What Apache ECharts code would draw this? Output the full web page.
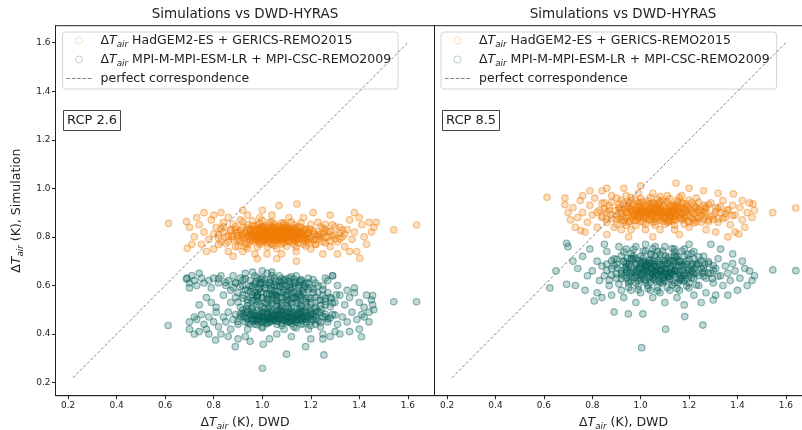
<!DOCTYPE html>
<html>
<head>
<meta charset="utf-8">
<script src="https://cdn.jsdelivr.net/npm/echarts@6/dist/echarts.min.js"></script>
<style>
  html, body { margin: 0; padding: 0; background: #fff; }
  #chart { width: 802px; height: 430px; }
</style>
</head>
<body>
<div id="chart"></div>
<script>
// tick labels (both axes)
const xTicks = [0.2, 0.4, 0.6, 0.8, 1.0, 1.2, 1.4, 1.6]
const yTicks = [0.2, 0.4, 0.6, 0.8, 1.0, 1.2, 1.4, 1.6]
const panelTitles = ['Simulations vs DWD-HYRAS', 'Simulations vs DWD-HYRAS']
const scenarios = ['RCP 2.6', 'RCP 8.5']
const seriesNames = ['HadGEM2-ES + GERICS-REMO2015', 'MPI-M-MPI-ESM-LR + MPI-CSC-REMO2009', 'perfect correspondence']
// perfect correspondence line end points
const diagLine = [[0.22, 0.22], [1.6, 1.6]]

// [DWD, simulation] pairs
const hadRcp26 = [
  [0.88,0.80],[0.90,0.82],[0.91,0.78],[0.92,0.84],[0.93,0.80],[0.94,0.77],[0.95,0.83],[0.96,0.81],[0.97,0.79],[0.98,0.85],[0.99,0.82],[1.00,0.78],[1.01,0.80],[1.02,0.83],[1.03,0.81],[1.04,0.77],[1.05,0.84],[1.06,0.80],[1.07,0.82],[1.08,0.79],[1.09,0.85],[1.10,0.81],[1.11,0.78],[1.12,0.83],[1.13,0.80],[1.14,0.82],[1.15,0.79],[1.16,0.84],[1.17,0.81],[1.18,0.78],[1.19,0.82],[1.20,0.80],[1.22,0.79],[1.23,0.81],
  [0.89,0.83],[0.90,0.79],[0.92,0.81],[0.93,0.76],[0.94,0.85],[0.95,0.80],[0.96,0.78],[0.97,0.83],[0.98,0.80],[0.99,0.77],[1.00,0.84],[1.01,0.82],[1.02,0.79],[1.03,0.86],[1.04,0.81],[1.05,0.78],[1.06,0.83],[1.07,0.80],[1.08,0.77],[1.09,0.82],[1.10,0.84],[1.11,0.80],[1.12,0.78],[1.13,0.85],[1.14,0.79],[1.15,0.82],[1.16,0.80],[1.17,0.77],[1.18,0.83],[1.19,0.79],[1.21,0.82],[1.22,0.77],[1.24,0.80],
  [0.955,0.815],[0.965,0.795],[0.975,0.825],[0.985,0.805],[0.995,0.835],[1.005,0.795],[1.015,0.815],[1.025,0.805],[1.035,0.825],[1.045,0.795],[1.055,0.815],[1.065,0.835],[1.075,0.805],[1.085,0.815],[1.095,0.795],[1.105,0.825],[1.115,0.805],[1.125,0.815],[1.135,0.835],[1.145,0.805],
  [0.96,0.805],[0.98,0.785],[1.00,0.81],[1.02,0.775],[1.04,0.825],[1.06,0.79],[1.08,0.835],[1.10,0.795],[1.12,0.805],[1.01,0.845],[1.05,0.765],[1.09,0.775],[0.97,0.845],[1.13,0.77],[1.07,0.845],
  [0.93,0.772],[0.99,0.776],[1.04,0.773],[1.08,0.778],[1.15,0.774],[1.19,0.777],
  [0.91,0.786],[0.95,0.783],[1.01,0.788],[1.03,0.782],[1.07,0.786],[1.11,0.784],[1.14,0.789],[1.21,0.785],
  [0.92,0.796],[0.97,0.793],[1.00,0.798],[1.04,0.792],[1.06,0.797],[1.09,0.794],[1.13,0.799],[1.17,0.795],[1.20,0.792],
  [0.90,0.806],[0.94,0.803],[0.98,0.808],[1.02,0.802],[1.05,0.807],[1.08,0.804],[1.11,0.809],[1.16,0.803],[1.18,0.807],[1.23,0.804],
  [0.93,0.816],[0.96,0.813],[1.00,0.818],[1.03,0.812],[1.06,0.817],[1.10,0.814],[1.13,0.819],[1.15,0.812],[1.19,0.816],
  [0.91,0.826],[0.95,0.823],[0.99,0.828],[1.02,0.822],[1.05,0.827],[1.07,0.824],[1.12,0.829],[1.16,0.823],[1.21,0.826],
  [0.94,0.836],[0.98,0.833],[1.01,0.838],[1.04,0.832],[1.09,0.837],[1.11,0.834],[1.14,0.839],[1.18,0.833],
  [0.96,0.846],[1.00,0.843],[1.03,0.848],[1.06,0.842],[1.10,0.847],[1.15,0.844],[0.99,0.856],[1.05,0.853],[1.09,0.858],
  [0.975,0.801],[0.985,0.821],[0.995,0.811],[1.005,0.831],[1.015,0.801],[1.025,0.821],[1.035,0.791],[1.045,0.811],[1.055,0.801],[1.065,0.821],[1.075,0.791],[1.085,0.831],[1.095,0.811],[1.105,0.801],[1.115,0.821],[1.125,0.791],[1.135,0.811],[1.145,0.826],[1.01,0.786],[1.04,0.841],[1.07,0.806],[1.10,0.826],[1.03,0.816],[1.06,0.786],[1.12,0.816],
  [0.942,0.792],[0.952,0.828],[0.962,0.788],[0.972,0.818],[0.982,0.796],[0.992,0.838],[1.002,0.782],[1.012,0.826],[1.022,0.812],[1.032,0.798],[1.042,0.834],[1.052,0.788],[1.062,0.812],[1.072,0.828],[1.082,0.798],[1.092,0.822],[1.102,0.786],[1.112,0.832],[1.122,0.798],[1.132,0.822],[1.142,0.792],[1.152,0.818],[1.162,0.812],[1.172,0.828],[1.182,0.792],
  [0.948,0.808],[0.968,0.832],[0.988,0.788],[1.008,0.816],[1.028,0.834],[1.048,0.802],[1.068,0.792],[1.088,0.808],[1.108,0.812],[1.128,0.832],[1.148,0.808],[1.168,0.788],[1.018,0.794],[1.058,0.826],[1.098,0.836],[1.138,0.784],
  [1.24,0.812],[1.26,0.798],[1.27,0.823],[1.29,0.806],[1.30,0.791],[1.32,0.815],[1.25,0.835],[1.28,0.784],[1.33,0.828],[1.26,0.775],[0.82,0.795],[0.84,0.818],[0.86,0.803],[0.87,0.826],[0.88,0.789],[0.85,0.772],[0.89,0.842],[0.83,0.834],
  [0.80,0.812],[0.82,0.768],[0.84,0.842],[0.86,0.781],[0.88,0.852],[0.90,0.762],[0.92,0.862],[0.94,0.752],[0.96,0.866],[0.98,0.758],[1.00,0.868],[1.02,0.758],[1.04,0.862],[1.06,0.752],[1.08,0.858],[1.10,0.762],[1.12,0.862],[1.14,0.758],[1.16,0.858],[1.18,0.762],[1.20,0.852],[1.22,0.768],[1.24,0.842],[1.26,0.852],[1.28,0.822],[1.30,0.842],[1.32,0.792],[1.34,0.812],
  [1.215,0.812],[1.235,0.792],[1.255,0.818],[1.195,0.832],[1.175,0.798],[0.915,0.808],[0.895,0.818],[0.875,0.802],[0.935,0.828],
  [0.72,0.80],[0.74,0.85],[0.75,0.77],[0.76,0.82],[0.78,0.79],[0.79,0.87],[0.80,0.75],[0.81,0.84],[0.82,0.81],[0.83,0.78],[0.84,0.86],[0.85,0.80],[0.86,0.74],[0.87,0.83],[0.86,0.88],[0.89,0.76],[0.91,0.87],[0.92,0.74],[0.94,0.89],[0.97,0.73],[0.99,0.88],[1.02,0.73],[1.04,0.89],[1.08,0.73],[1.11,0.88],[1.14,0.74],[1.17,0.88],[1.20,0.75],[1.23,0.86],[1.25,0.78],[1.26,0.83],[1.27,0.80],[1.28,0.76],[1.29,0.85],[1.30,0.81],[1.31,0.78],[1.32,0.84],[1.33,0.80],[1.34,0.76],[1.35,0.83],[1.36,0.87],[1.37,0.79],[1.38,0.82],[1.39,0.74],[1.41,0.85],[1.42,0.80],[1.25,0.73],[1.28,0.89],[0.77,0.74],[0.83,0.90],
  [0.614,0.856],[0.688,0.863],[0.691,0.753],[0.70,0.84],[0.71,0.77],[0.73,0.88],[0.76,0.90],[0.80,0.89],[1.069,0.929],[1.143,0.936],[1.141,0.70],[1.402,0.712],[1.542,0.829],[1.636,0.849],[1.44,0.86],[1.45,0.82],[1.46,0.84],[1.43,0.77],[1.40,0.88],[1.36,0.74],[0.92,0.91],[1.00,0.91],[1.21,0.90],[0.98,0.71],[1.06,0.71],[0.88,0.72],[1.31,0.73],[1.47,0.86],[1.38,0.90]
]
const mpiRcp26 = [
  [0.69,0.63],[0.70,0.61],[0.72,0.62],[0.73,0.60],[0.75,0.63],[0.76,0.61],[0.78,0.62],[0.79,0.59],[0.80,0.63],[0.82,0.61],[0.83,0.64],[0.85,0.60],[0.86,0.62],[0.87,0.58],[0.88,0.64],[0.89,0.61],[0.90,0.57],[0.91,0.63],[0.92,0.60],[0.93,0.65],[0.94,0.58],[0.95,0.62],[0.96,0.60],[0.97,0.64],[0.98,0.57],[0.99,0.61],[1.00,0.63],[1.01,0.59],[1.02,0.65],[1.03,0.61],[1.04,0.58],[1.05,0.63],[1.06,0.60],[1.07,0.64],[1.08,0.57],[1.09,0.62],[1.10,0.60],[1.11,0.63],[1.12,0.58],[1.13,0.61],[1.14,0.64],[1.15,0.59],[1.16,0.62],[1.17,0.57],[1.18,0.61],[1.19,0.63],[1.20,0.59],[1.22,0.61],[1.23,0.57],[1.25,0.60],[1.27,0.62],[1.29,0.64],[0.96,0.655],[1.04,0.655],[1.00,0.66],
  [0.84,0.56],[0.87,0.53],[0.89,0.55],[0.91,0.51],[0.92,0.56],[0.94,0.53],[0.95,0.55],[0.96,0.51],[0.97,0.54],[0.98,0.56],[0.99,0.52],[1.00,0.55],[1.01,0.53],[1.02,0.56],[1.03,0.51],[1.04,0.54],[1.05,0.56],[1.06,0.52],[1.07,0.55],[1.08,0.53],[1.09,0.50],[1.10,0.56],[1.11,0.54],[1.12,0.51],[1.13,0.55],[1.14,0.53],[1.15,0.56],[1.16,0.52],[1.17,0.54],[1.18,0.50],[1.19,0.55],[1.20,0.53],[1.21,0.57],[1.22,0.51],[1.24,0.54],[1.25,0.56],[1.26,0.52],[1.28,0.55],[1.30,0.53],[1.32,0.56],[1.34,0.52],[1.36,0.55],[1.38,0.57],[1.40,0.53],[1.43,0.56],[1.45,0.54],[1.455,0.558],[1.42,0.51],
  [0.73,0.46],[0.75,0.48],[0.76,0.44],[0.78,0.47],[0.80,0.45],[0.81,0.49],[0.82,0.43],[0.84,0.47],[0.85,0.45],[0.86,0.49],[0.87,0.42],[0.88,0.46],[0.89,0.48],[0.90,0.44],[0.91,0.47],[0.92,0.50],[0.93,0.45],[0.94,0.42],[0.95,0.48],[0.96,0.46],[0.97,0.44],[0.98,0.49],[0.99,0.47],[1.00,0.43],[1.01,0.46],[1.02,0.48],[1.03,0.45],[1.04,0.50],[1.05,0.47],[1.06,0.44],[1.07,0.46],[1.08,0.49],[1.09,0.42],[1.10,0.47],[1.11,0.45],[1.12,0.48],[1.13,0.43],[1.14,0.46],[1.15,0.49],[1.16,0.44],[1.17,0.47],[1.18,0.45],[1.19,0.42],[1.20,0.48],[1.21,0.46],[1.22,0.44],[1.23,0.49],[1.24,0.43],[1.26,0.47],[1.27,0.45],[1.29,0.48],[1.31,0.44],[1.33,0.47],[1.35,0.45],[1.37,0.49],[1.39,0.46],[1.41,0.48],[1.30,0.41],[1.25,0.40],
  [0.955,0.465],[0.965,0.485],[0.975,0.455],[0.985,0.475],[0.995,0.495],[1.005,0.465],[1.015,0.445],[1.025,0.475],[1.035,0.465],[1.045,0.485],[1.055,0.455],[1.065,0.475],[1.075,0.495],[1.085,0.465],[1.095,0.455],[1.105,0.485],[1.115,0.465],[1.125,0.475],[1.135,0.455],[1.145,0.485],[1.155,0.465],[1.165,0.475],[1.175,0.495],[1.01,0.505],[1.06,0.515],[1.11,0.505],[1.00,0.425],[1.08,0.435],[1.14,0.425],[1.20,0.435],
  [0.90,0.452],[0.93,0.468],[0.95,0.441],[0.97,0.475],[0.99,0.458],[1.01,0.487],[1.03,0.449],[1.05,0.462],[1.07,0.481],[1.09,0.455],[1.11,0.472],[1.13,0.491],[1.15,0.458],[1.17,0.442],[1.19,0.468],[1.21,0.482],[1.23,0.455],[1.25,0.471],
  [0.91,0.482],[0.94,0.494],[0.96,0.452],[0.98,0.438],[1.00,0.472],[1.02,0.461],[1.04,0.477],[1.06,0.493],[1.08,0.446],[1.10,0.461],[1.12,0.455],[1.14,0.476],[1.16,0.489],[1.18,0.462],[1.20,0.451],[1.22,0.474],[1.24,0.488],[1.27,0.462],
  [0.985,0.462],[1.005,0.452],[1.025,0.468],[1.045,0.456],[1.065,0.465],[1.085,0.478],[1.105,0.449],[1.125,0.462],[1.145,0.469],[1.165,0.456],[1.035,0.492],[1.075,0.502],[1.115,0.495],[1.155,0.505],[0.955,0.505],[1.195,0.495],
  [0.922,0.472],[0.942,0.448],[0.962,0.492],[0.982,0.466],[1.002,0.448],[1.022,0.486],[1.042,0.472],[1.062,0.452],[1.082,0.492],[1.102,0.472],[1.122,0.486],[1.142,0.448],[1.162,0.492],[1.182,0.472],[1.202,0.486],[1.222,0.462],
  [0.932,0.488],[0.952,0.476],[0.972,0.462],[0.992,0.482],[1.012,0.472],[1.032,0.458],[1.052,0.482],[1.072,0.466],[1.092,0.478],[1.112,0.452],[1.132,0.472],[1.152,0.482],[1.172,0.462],[1.192,0.476],
  [0.958,0.592],[0.978,0.556],[0.998,0.612],[1.018,0.566],[1.038,0.598],[1.058,0.562],[1.078,0.612],[1.098,0.558],[1.118,0.588],[1.138,0.612],[1.158,0.552],[1.178,0.596],[1.028,0.538],[1.068,0.528],[1.108,0.538],[1.148,0.528],
  [0.93,0.582],[0.95,0.598],[0.97,0.571],[0.99,0.604],[1.01,0.588],[1.03,0.612],[1.05,0.574],[1.07,0.596],[1.09,0.583],[1.11,0.617],[1.13,0.572],[1.15,0.601],[1.17,0.588],[1.19,0.611],[1.21,0.585],
  [0.94,0.541],[0.96,0.562],[0.98,0.535],[1.00,0.548],[1.02,0.527],[1.04,0.565],[1.06,0.538],[1.08,0.551],[1.10,0.529],[1.12,0.566],[1.14,0.542],[1.16,0.559],[1.18,0.531],[1.20,0.548],[1.23,0.538],[1.26,0.546],[1.29,0.528],
  [0.92,0.622],[0.98,0.632],[1.04,0.641],[1.08,0.628],[1.12,0.636],[1.16,0.624],[0.88,0.592],[0.85,0.612],[0.82,0.628],
  [0.975,0.615],[0.995,0.625],[1.015,0.605],[1.035,0.625],[1.055,0.615],[1.075,0.595],[1.095,0.625],[1.115,0.605],[1.135,0.595],[1.155,0.615],[1.035,0.585],[1.065,0.575],[0.985,0.585],[1.105,0.575],
  [0.89,0.612],[0.91,0.596],[0.93,0.628],[0.95,0.574],[0.97,0.606],[0.99,0.588],[1.01,0.622],[1.03,0.566],[1.05,0.602],[1.07,0.618],[1.09,0.571],[1.11,0.594],[1.13,0.626],[1.15,0.568],[1.17,0.604],[1.19,0.582],[1.21,0.624],[1.23,0.598],[1.25,0.582],[1.27,0.571],
  [0.90,0.532],[0.92,0.548],[0.94,0.516],[0.96,0.538],[0.98,0.552],[1.00,0.512],[1.02,0.544],[1.04,0.528],[1.06,0.556],[1.08,0.518],[1.10,0.542],[1.12,0.526],[1.14,0.552],[1.16,0.514],[1.18,0.546],[1.20,0.522],[1.22,0.552],[1.24,0.518],[1.26,0.534],[1.28,0.512],
  [0.92,0.482],[0.94,0.462],[0.96,0.478],[0.98,0.452],[1.00,0.488],[1.02,0.442],[1.04,0.462],[1.06,0.478],[1.08,0.462],[1.10,0.488],[1.12,0.442],[1.14,0.458],[1.16,0.472],[1.18,0.488],[1.20,0.462],[1.22,0.492],[1.24,0.448],[1.26,0.482],[1.28,0.466],[1.30,0.478],
  [0.995,0.575],[1.045,0.548],[1.085,0.602],[1.125,0.548],[1.165,0.578],[1.025,0.505],[1.065,0.498],[1.105,0.512],[1.145,0.502],[1.185,0.512],[0.935,0.502],[0.975,0.522],[1.215,0.505],[1.245,0.502],[1.285,0.545],[1.305,0.562],
  [0.612,0.435],[0.688,0.627],[0.70,0.45],[0.70,0.42],[0.72,0.40],[0.74,0.41],[0.77,0.42],[0.78,0.40],[0.808,0.375],[0.83,0.40],[0.86,0.39],[0.889,0.348],[0.90,0.38],[0.93,0.39],[0.95,0.37],[1.001,0.259],[1.004,0.358],[1.03,0.38],[1.06,0.40],[1.10,0.317],[1.12,0.39],[1.179,0.348],[1.20,0.38],[1.254,0.314],[1.25,0.38],[1.28,0.39],[1.32,0.40],[1.36,0.41],[1.409,0.389],[1.40,0.42],[1.44,0.45],[1.46,0.50],[1.455,0.52],[1.542,0.533],[1.636,0.533],[1.29,0.64],[1.26,0.63],[1.35,0.58],[1.38,0.59],[1.31,0.60],[0.71,0.64],[0.74,0.65],[0.70,0.59],[0.77,0.55],[0.79,0.53],[0.74,0.52],[0.72,0.47],[0.81,0.51],[1.42,0.47],[1.44,0.49]
]
const hadRcp85 = [
  [0.90,0.89],[0.91,0.92],[0.92,0.87],[0.93,0.94],[0.94,0.90],[0.95,0.86],[0.96,0.92],[0.97,0.89],[0.98,0.95],[0.99,0.88],[1.00,0.91],[1.01,0.86],[1.02,0.93],[1.03,0.90],[1.04,0.87],[1.05,0.94],[1.06,0.91],[1.07,0.88],[1.08,0.92],[1.09,0.95],[1.10,0.89],[1.11,0.86],[1.12,0.93],[1.13,0.90],[1.14,0.87],[1.15,0.92],[1.16,0.89],[1.17,0.94],[1.18,0.88],[1.19,0.91],[1.20,0.86],[1.21,0.90],[1.22,0.93],[1.23,0.88],[1.24,0.91],
  [0.91,0.88],[0.92,0.91],[0.93,0.86],[0.94,0.93],[0.95,0.89],[0.96,0.95],[0.97,0.87],[0.98,0.91],[0.99,0.94],[1.00,0.88],[1.01,0.92],[1.02,0.89],[1.03,0.95],[1.04,0.91],[1.05,0.86],[1.06,0.93],[1.07,0.90],[1.08,0.87],[1.09,0.91],[1.10,0.94],[1.11,0.90],[1.12,0.87],[1.13,0.93],[1.14,0.89],[1.15,0.95],[1.16,0.91],[1.17,0.87],[1.18,0.92],[1.19,0.89],[1.21,0.94],[1.22,0.87],[1.23,0.92],[1.25,0.89],
  [0.965,0.905],[0.975,0.885],[0.985,0.925],[0.995,0.905],[1.005,0.895],[1.015,0.915],[1.025,0.875],[1.035,0.905],[1.045,0.925],[1.055,0.895],[1.065,0.885],[1.075,0.915],[1.085,0.905],[1.095,0.875],[1.105,0.915],[1.115,0.895],[1.125,0.905],[1.135,0.925],[1.145,0.885],[1.155,0.905],
  [0.97,0.935],[1.00,0.865],[1.02,0.905],[1.04,0.935],[1.06,0.875],[1.08,0.945],[1.10,0.905],[1.12,0.885],[1.14,0.915],[1.01,0.945],[1.05,0.905],[1.09,0.865],[1.13,0.865],[0.99,0.875],[1.07,0.955],
  [0.90,0.872],[0.92,0.898],[0.94,0.881],[0.96,0.914],[0.98,0.868],[1.00,0.902],[1.02,0.884],[1.04,0.918],[1.06,0.862],[1.08,0.896],[1.10,0.878],[1.12,0.912],[1.14,0.872],[1.16,0.901],[1.18,0.884],[1.20,0.915],[1.22,0.896],[1.24,0.878],
  [0.91,0.934],[0.93,0.912],[0.95,0.941],[0.97,0.896],[0.99,0.922],[1.01,0.882],[1.03,0.938],[1.05,0.892],[1.07,0.924],[1.09,0.881],[1.11,0.945],[1.13,0.902],[1.15,0.928],[1.17,0.876],[1.19,0.934],[1.21,0.908],[1.23,0.862],[1.26,0.904],
  [0.985,0.892],[1.005,0.912],[1.025,0.898],[1.045,0.902],[1.065,0.912],[1.085,0.888],[1.105,0.898],[1.125,0.922],[1.145,0.894],[1.165,0.918],[1.035,0.872],[1.075,0.938],[1.115,0.862],[1.155,0.942],[0.955,0.865],[1.195,0.865],
  [0.942,0.902],[0.962,0.878],[0.982,0.912],[1.002,0.928],[1.022,0.882],[1.042,0.892],[1.062,0.922],[1.082,0.912],[1.102,0.882],[1.122,0.894],[1.142,0.932],[1.162,0.878],[1.182,0.912],[1.202,0.888],
  [0.952,0.928],[0.972,0.908],[0.992,0.888],[1.012,0.902],[1.032,0.918],[1.052,0.878],[1.072,0.902],[1.092,0.928],[1.112,0.908],[1.132,0.882],[1.152,0.918],[1.172,0.898],[1.192,0.922],[1.212,0.876],
  [0.932,0.868],[1.058,0.938],[1.118,0.868],[1.178,0.938],[0.998,0.942],[1.238,0.902],[0.912,0.918],[1.268,0.922],
  [1.27,0.918],[1.29,0.882],[1.31,0.904],[1.33,0.925],[1.35,0.896],[1.28,0.862],[1.32,0.875],[0.86,0.902],[0.87,0.928],[0.88,0.876],[0.85,0.915],[0.84,0.885],
  [0.82,0.902],[0.84,0.938],[0.86,0.872],[0.88,0.942],[0.90,0.852],[0.92,0.952],[0.94,0.848],[0.96,0.962],[0.98,0.846],[1.00,0.958],[1.02,0.852],[1.04,0.962],[1.06,0.848],[1.08,0.966],[1.10,0.852],[1.12,0.958],[1.14,0.848],[1.16,0.962],[1.18,0.852],[1.20,0.952],[1.22,0.858],[1.24,0.942],[1.26,0.872],[1.28,0.932],[1.30,0.872],[1.32,0.918],[1.34,0.876],[1.36,0.912],[1.38,0.888],
  [1.245,0.912],[1.265,0.888],[1.225,0.922],[1.185,0.902],[0.945,0.918],[0.925,0.882],[0.895,0.908],[0.875,0.892],
  [0.72,0.92],[0.74,0.88],[0.75,0.95],[0.76,0.90],[0.78,0.86],[0.79,0.93],[0.80,0.89],[0.81,0.96],[0.82,0.84],[0.83,0.91],[0.84,0.88],[0.85,0.94],[0.86,0.86],[0.87,0.91],[0.88,0.97],[0.89,0.84],[0.90,0.96],[0.92,0.83],[0.94,0.97],[0.96,0.83],[0.99,0.98],[1.02,0.83],[1.05,0.98],[1.08,0.83],[1.11,0.97],[1.14,0.83],[1.17,0.97],[1.20,0.84],[1.23,0.96],[1.25,0.86],[1.26,0.93],[1.27,0.90],[1.28,0.87],[1.29,0.94],[1.30,0.89],[1.31,0.92],[1.32,0.86],[1.33,0.90],[1.34,0.95],[1.35,0.88],[1.36,0.91],[1.37,0.85],[1.38,0.93],[1.39,0.89],[1.41,0.92],[1.42,0.87],[1.44,0.90],[1.27,0.83],[0.77,0.82],[0.84,0.99],
  [0.613,0.963],[0.687,0.96],[0.687,0.932],[0.70,0.90],[0.71,0.87],[0.73,0.84],[0.752,0.826],[0.76,0.97],[0.79,0.99],[0.86,1.00],[0.93,1.00],[1.00,1.01],[1.146,1.021],[1.20,1.00],[1.26,0.99],[1.32,0.98],[1.383,0.977],[1.405,0.812],[1.42,0.95],[1.45,0.94],[1.464,0.936],[1.47,0.91],[1.46,0.88],[1.43,0.84],[1.39,0.82],[1.546,0.90],[1.641,0.919],[0.95,0.80],[1.05,0.80],[1.16,0.81],[1.31,0.82],[0.86,0.81],[1.36,0.80]
]
const mpiRcp85 = [
  [0.92,0.66],[0.93,0.70],[0.94,0.63],[0.95,0.68],[0.96,0.65],[0.97,0.72],[0.98,0.61],[0.99,0.67],[1.00,0.64],[1.01,0.70],[1.02,0.62],[1.03,0.66],[1.04,0.73],[1.05,0.63],[1.06,0.68],[1.07,0.65],[1.08,0.71],[1.09,0.61],[1.10,0.67],[1.11,0.64],[1.12,0.70],[1.13,0.62],[1.14,0.66],[1.15,0.72],[1.16,0.63],[1.17,0.68],[1.18,0.65],[1.19,0.70],[1.20,0.61],[1.21,0.66],[1.22,0.63],[1.23,0.69],
  [0.93,0.64],[0.94,0.69],[0.95,0.61],[0.96,0.71],[0.97,0.66],[0.98,0.69],[0.99,0.62],[1.00,0.72],[1.01,0.66],[1.02,0.68],[1.03,0.60],[1.04,0.65],[1.05,0.70],[1.06,0.62],[1.07,0.74],[1.08,0.66],[1.09,0.68],[1.10,0.62],[1.11,0.71],[1.12,0.65],[1.13,0.68],[1.14,0.61],[1.15,0.66],[1.16,0.70],[1.17,0.63],[1.18,0.72],[1.19,0.65],[1.21,0.68],[1.22,0.71],[1.24,0.64],
  [0.985,0.655],[0.995,0.675],[1.005,0.645],[1.015,0.665],[1.025,0.685],[1.035,0.645],[1.045,0.665],[1.055,0.655],[1.065,0.675],[1.075,0.645],[1.085,0.665],[1.095,0.685],[1.105,0.655],[1.115,0.635],[1.125,0.665],[1.135,0.645],[1.015,0.625],[1.055,0.625],[1.095,0.635],[1.035,0.705],[1.075,0.695],[1.005,0.695],
  [0.92,0.628],[0.94,0.652],[0.96,0.681],[0.98,0.642],[1.00,0.668],[1.02,0.694],[1.04,0.638],[1.06,0.661],[1.08,0.686],[1.10,0.648],[1.12,0.672],[1.14,0.698],[1.16,0.656],[1.18,0.679],[1.20,0.641],[1.22,0.668],[1.24,0.688],
  [0.93,0.698],[0.95,0.621],[0.97,0.708],[0.99,0.631],[1.01,0.712],[1.03,0.676],[1.05,0.648],[1.07,0.704],[1.09,0.628],[1.11,0.691],[1.13,0.652],[1.15,0.708],[1.17,0.622],[1.19,0.688],[1.21,0.632],[1.23,0.651],[1.26,0.672],
  [0.985,0.662],[1.005,0.648],[1.025,0.658],[1.045,0.672],[1.065,0.652],[1.085,0.642],[1.105,0.668],[1.125,0.652],[1.145,0.678],[1.165,0.642],[1.035,0.692],[1.075,0.622],[1.115,0.718],[1.155,0.612],[0.955,0.652],[1.195,0.662],
  [0.942,0.662],[0.962,0.636],[0.982,0.688],[1.002,0.628],[1.022,0.672],[1.042,0.692],[1.062,0.638],[1.082,0.658],[1.102,0.688],[1.122,0.638],[1.142,0.662],[1.162,0.698],[1.182,0.642],[1.202,0.672],
  [0.952,0.688],[0.972,0.652],[0.992,0.702],[1.012,0.652],[1.032,0.632],[1.052,0.678],[1.072,0.662],[1.092,0.618],[1.112,0.648],[1.132,0.702],[1.152,0.648],[1.172,0.688],[1.192,0.628],[1.212,0.658],
  [0.922,0.648],[0.962,0.712],[1.042,0.612],[1.102,0.722],[1.162,0.622],[1.232,0.682],[1.262,0.658],[0.902,0.688],
  [0.96,0.732],[1.02,0.742],[1.08,0.728],[1.14,0.738],[0.99,0.598],[1.07,0.592],[1.13,0.602],[1.28,0.651],[1.30,0.682],[1.32,0.638],[0.88,0.642],[0.86,0.688],[0.90,0.708],
  [0.86,0.662],[0.88,0.702],[0.90,0.648],[0.92,0.722],[0.94,0.676],[0.96,0.618],[0.98,0.712],[1.00,0.688],[1.02,0.612],[1.04,0.702],[1.06,0.724],[1.08,0.612],[1.10,0.702],[1.12,0.628],[1.14,0.722],[1.16,0.682],[1.18,0.618],[1.20,0.706],[1.22,0.648],[1.24,0.718],[1.26,0.638],[1.28,0.698],[1.30,0.662],
  [0.87,0.622],[0.89,0.682],[0.91,0.606],[0.93,0.738],[0.95,0.592],[0.97,0.748],[0.99,0.582],[1.01,0.742],[1.03,0.588],[1.05,0.752],[1.07,0.578],[1.09,0.742],[1.11,0.592],[1.13,0.752],[1.15,0.588],[1.17,0.742],[1.19,0.598],[1.21,0.732],[1.23,0.602],[1.25,0.702],
  [0.935,0.668],[0.975,0.632],[1.015,0.682],[1.055,0.688],[1.095,0.652],[1.135,0.688],[1.175,0.662],[1.215,0.688],[1.255,0.652],[1.295,0.628],[0.945,0.712],[1.045,0.728],[1.145,0.718],[1.195,0.728],[0.905,0.672],[1.265,0.688],
  [0.80,0.66],[0.82,0.70],[0.83,0.62],[0.84,0.68],[0.85,0.64],[0.86,0.74],[0.87,0.60],[0.88,0.67],[0.89,0.71],[0.90,0.63],[0.91,0.76],[0.92,0.58],[0.94,0.75],[0.96,0.58],[0.98,0.76],[1.00,0.57],[1.02,0.77],[1.04,0.58],[1.06,0.76],[1.08,0.57],[1.10,0.76],[1.12,0.58],[1.14,0.75],[1.16,0.58],[1.18,0.75],[1.20,0.59],[1.22,0.74],[1.24,0.60],[1.25,0.67],[1.26,0.72],[1.27,0.63],[1.28,0.69],[1.29,0.65],[1.30,0.61],[1.31,0.67],[1.32,0.71],[1.33,0.64],[1.34,0.60],[1.35,0.68],[1.36,0.65],[1.37,0.62],[1.38,0.69],[1.39,0.66],[1.41,0.63],[1.43,0.67],[1.27,0.57],[1.31,0.56],[0.88,0.56],[0.93,0.55],[1.05,0.55],[1.15,0.55],[1.22,0.56],
  [0.625,0.59],[0.694,0.605],[0.694,0.774],[0.70,0.76],[0.72,0.70],[0.73,0.60],[0.74,0.67],[0.76,0.72],[0.77,0.58],[0.78,0.64],[0.79,0.75],[0.808,0.536],[0.82,0.57],[0.84,0.55],[0.85,0.77],[0.89,0.491],[0.949,0.483],[1.009,0.483],[0.98,0.53],[1.10,0.53],[1.18,0.52],[1.182,0.472],[1.103,0.42],[1.257,0.437],[1.004,0.344],[1.25,0.53],[1.30,0.54],[1.36,0.56],[1.40,0.58],[1.44,0.60],[1.46,0.62],[1.47,0.64],[1.45,0.66],[1.42,0.70],[1.38,0.73],[1.33,0.75],[1.29,0.77],[1.546,0.664],[1.641,0.661],[0.65,0.66],[1.20,0.77]
]

const panels = [
  { had: hadRcp26, mpi: mpiRcp26 },
  { had: hadRcp85, mpi: mpiRcp85 }
]
const hadRgb = '240,124,0'
const mpiRgb = '0,95,86'

const txt = '#222'
const font = 'DejaVu Sans'
const richT = {
  d: { fontFamily: font, fontSize: 12.5, color: txt, lineHeight: 17 },
  t: { fontFamily: font, fontSize: 12.5, fontStyle: 'italic', color: txt, lineHeight: 17 },
  s: { fontFamily: font, fontSize: 8.8, fontStyle: 'italic', color: txt, lineHeight: 9, verticalAlign: 'bottom' },
  n: { fontFamily: font, fontSize: 12.5, color: txt, lineHeight: 17 }
}
const dT = '{d|Δ}{t|T}{s|air}'
// dashed stroke used as the legend icon of the diagonal
const dashIcon = 'path://M0,0h3.6v1h-3.6z M5.3,0h3.6v1h-3.6z M10.6,0h3.6v1h-3.6z M15.9,0h3.6v1h-3.6z M21.2,0h3.6v1h-3.6z'

const mycharts = echarts.init(document.getElementById('chart'))

const grids = [
  { left: 55.5, top: 25.7, width: 379, height: 370 },
  { left: 434.5, top: 25.7, width: 378, height: 370 }
]

function scatter(name, data, rgb, i) {
  return {
    type: 'scatter', name: name, data: data,
    xAxisIndex: i, yAxisIndex: i,
    symbol: 'circle', symbolSize: 6.5,
    itemStyle: { color: 'rgba(' + rgb + ',0.3)', borderColor: 'rgba(' + rgb + ',0.55)', borderWidth: 1.15 },
    emphasis: { disabled: true },
    silent: true
  }
}

let series = []
panels.forEach((p, i) => {
  series.push(scatter(seriesNames[0], p.had, hadRgb, i))
  series.push(scatter(seriesNames[1], p.mpi, mpiRgb, i))
  series.push({
    type: 'line', name: seriesNames[2], data: diagLine,
    xAxisIndex: i, yAxisIndex: i,
    symbol: 'none', silent: true,
    lineStyle: { color: '#808080', width: 1, type: [3, 2] },
    itemStyle: { color: '#808080' },
    z: 5
  })
})

const hollow = rgb => ({ color: 'rgba(0,0,0,0)', borderColor: 'rgba(' + rgb + ',0.35)', borderWidth: 1 })

mycharts.setOption({
  animation: false,
  textStyle: { fontFamily: font },
  grid: grids.map(g => Object.assign({ show: true, borderColor: txt, borderWidth: 1, backgroundColor: 'transparent', containLabel: false, outerBoundsMode: 'none' }, g)),
  title: [
    { text: panelTitles[0], left: 245, top: 7, padding: 0, textAlign: 'center', textStyle: { fontFamily: font, fontSize: 13.5, fontWeight: 'normal', color: txt } },
    { text: panelTitles[1], left: 623, top: 7, padding: 0, textAlign: 'center', textStyle: { fontFamily: font, fontSize: 13.5, fontWeight: 'normal', color: txt } },
    { text: scenarios[0], left: 63, top: 110, padding: [3, 4, 2, 4], borderColor: '#444', borderWidth: 1, backgroundColor: '#fff', textStyle: { fontFamily: font, fontSize: 13, fontWeight: 'normal', color: txt, lineHeight: 16 } },
    { text: scenarios[1], left: 442, top: 110, padding: [3, 4, 2, 4], borderColor: '#444', borderWidth: 1, backgroundColor: '#fff', textStyle: { fontFamily: font, fontSize: 13, fontWeight: 'normal', color: txt, lineHeight: 16 } }
  ],
  legend: [62.5, 441].map(l => ({
    left: l, top: 32, orient: 'vertical',
    data: [
      { name: seriesNames[0], itemStyle: hollow(hadRgb) },
      { name: seriesNames[1], itemStyle: hollow(mpiRgb) },
      { name: seriesNames[2], icon: dashIcon }
    ],
    itemWidth: 25, itemHeight: 7, itemGap: 4,
    padding: [2, 7, 4, 4],
    borderColor: '#d4d4d4', borderWidth: 1, borderRadius: 3,
    backgroundColor: 'rgba(255,255,255,0.85)',
    selectedMode: false,
    formatter: name => name === seriesNames[2] ? '{n|' + name + '}' : dT + '{n| ' + name + '}',
    textStyle: { fontFamily: font, fontSize: 12.5, color: txt, padding: [0, 0, 0, 4], rich: richT }
  })),
  xAxis: grids.map((g, i) => ({
    type: 'value', gridIndex: i, min: 0.148, max: 1.71,
    name: dT + '{n| (K), DWD}', nameLocation: 'middle', nameGap: 19,
    nameTextStyle: { rich: richT },
    splitLine: { show: false },
    axisLine: { show: true, onZero: false, lineStyle: { color: txt, width: 1 } },
    axisTick: { show: true, length: 3.5, customValues: xTicks, lineStyle: { color: txt } },
    axisLabel: { customValues: xTicks, margin: 5, fontSize: 9, color: txt, fontFamily: font, formatter: v => v.toFixed(1) }
  })),
  yAxis: grids.map((g, i) => ({
    type: 'value', gridIndex: i, min: 0.146, max: 1.67,
    name: i === 0 ? dT + '{n| (K), Simulation}' : '', nameLocation: 'middle', nameGap: 30,
    nameTextStyle: { rich: richT },
    splitLine: { show: false },
    axisLine: { show: true, onZero: false, lineStyle: { color: txt, width: 1 } },
    axisTick: { show: i === 0, length: 3.5, customValues: yTicks, lineStyle: { color: txt } },
    axisLabel: { show: i === 0, customValues: yTicks, margin: 5, fontSize: 9, color: txt, fontFamily: font, formatter: v => v.toFixed(1) }
  })),
  series: series
})
</script>
</body>
</html>
